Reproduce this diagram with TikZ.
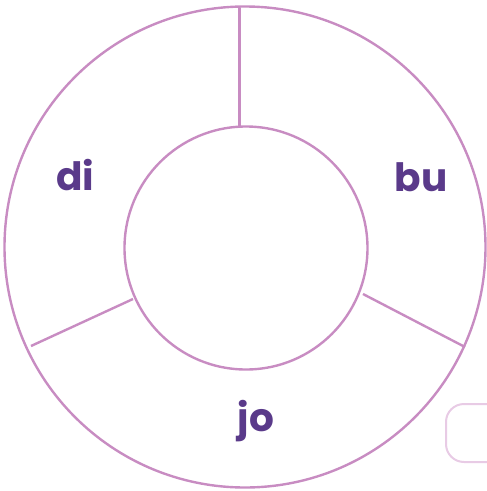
\documentclass[tikz,border=0pt]{standalone}
\usepackage{fontspec}
\setmainfont{Poppins}
\definecolor{ring}{HTML}{C88CC2}
\definecolor{ghost}{HTML}{E8CBE5}
\definecolor{label}{HTML}{5A3A8A}
\tikzset{
  ringline/.style={draw=ring, line width=2.4pt},
  seglabel/.style={text=label, font=\fontsize{39}{39}\selectfont\bfseries, anchor=base, inner sep=0pt},
}
\begin{document}
\begin{tikzpicture}[x=1pt,y=-1pt]
\useasboundingbox (0,0) rectangle (487,491);
\node[ringline, circle, minimum size=481pt, inner sep=0pt] (outer) at (245,247) {};
\node[ringline, circle, minimum size=243pt, inner sep=0pt] (inner) at (246,248) {};
\coordinate (t1) at (239.5,8);
\coordinate (t2) at (239.5,128);
\coordinate (l1) at (133,299);
\coordinate (l2) at (31,346);
\coordinate (r1) at (363,294);
\coordinate (r2) at (465,347);
\draw[ringline] (t2) -- (t1);
\draw[ringline] (l1) -- (l2);
\draw[ringline] (r1) -- (r2);
\node[seglabel] (di) at (75,190) {di};
\node[seglabel] (bu) at (421,191) {bu};
\node[seglabel] (jo) at (256,431) {jo};
\draw[draw=ghost, line width=2pt, rounded corners=18pt] (446,404) rectangle (520,462);
\end{tikzpicture}
\end{document}
